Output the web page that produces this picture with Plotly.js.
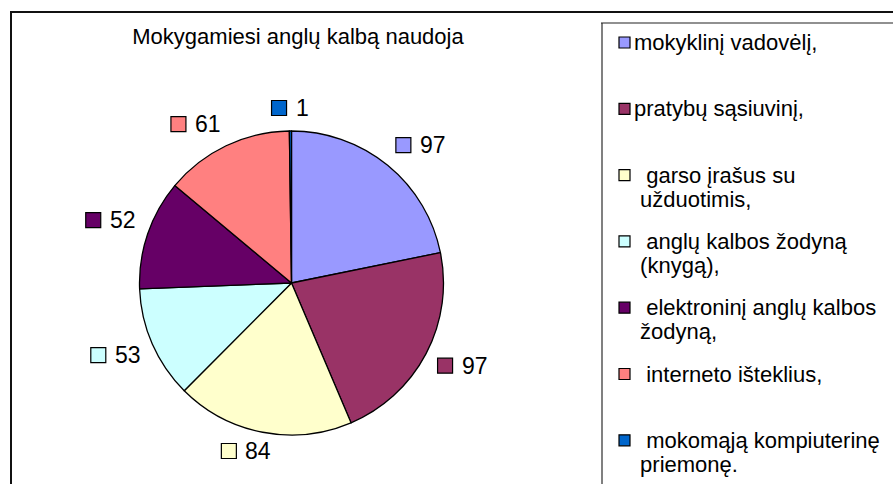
<!DOCTYPE html>
<html>
<head>
<meta charset="utf-8">
<script src="https://cdn.plot.ly/plotly-3.0.1.min.js"></script>
<style>
html,body{margin:0;padding:0;background:#fff;}
#chart{width:893px;height:484px;}
</style>
</head>
<body>
<div id="chart"></div>
<script>
// ---- data ----
const labels = ["mokyklinį vadovėlį,", "pratybų sąsiuvinį,", "garso įrašus su užduotimis,", "anglų kalbos žodyną (knygą),", "elektroninį anglų kalbos žodyną,", "interneto išteklius,", "mokomąją kompiuterinę priemonę."];
const legendText = ["mokyklinį vadovėlį,", "pratybų sąsiuvinį,", "\u00A0\u00A0garso įrašus su<br>\u00A0užduotimis,", "\u00A0\u00A0anglų kalbos žodyną<br>\u00A0(knygą),", "\u00A0\u00A0elektroninį anglų kalbos<br>\u00A0žodyną,", "\u00A0\u00A0interneto išteklius,", "\u00A0\u00A0mokomąją kompiuterinę<br>\u00A0priemonę."];
const values = [97, 97, 84, 53, 52, 61, 1];
const colors = ["#9999FF", "#993366", "#FFFFCC", "#CCFFFF", "#660066", "#FF8080", "#0066CC"];
const chartTitle = "Mokygamiesi anglų kalbą naudoja";

// ---- layout helpers ----
const W = 893, H = 484;
const px = x => x / W;
const py = y => 1 - y / H;
const FONT = "Liberation Sans, Arial, sans-serif";

const cx = 291.5, cy = 283, R = 152;

const shapes = [];
const annotations = [];

// outer chart frame
shapes.push({type: "rect", xref: "paper", yref: "paper", x0: px(11), x1: px(W + 20), y0: py(12), y1: py(H + 20), line: {color: "#111", width: 2}, fillcolor: "rgba(0,0,0,0)", layer: "below"});
// legend frame
shapes.push({type: "line", xref: "paper", yref: "paper", x0: px(602), x1: px(602), y0: py(23), y1: py(H + 20), line: {color: "#808080", width: 2}});
shapes.push({type: "line", xref: "paper", yref: "paper", x0: px(601), x1: px(W + 20), y0: py(23), y1: py(23), line: {color: "#222", width: 1.2}});

// legend entries
const legFs = 22, legTop = 42.5, legStep = 66.3, legLine = 24;
legendText.forEach((t, i) => {
  const yc = legTop + i * legStep;
  shapes.push({type: "rect", xref: "paper", yref: "paper", x0: px(619), x1: px(630), y0: py(yc - 5.5), y1: py(yc + 5.5), fillcolor: colors[i], line: {color: "#000", width: 1.2}});
  t.split("<br>").forEach((ln, k) => {
    annotations.push({xref: "paper", yref: "paper", x: px(634), y: py(yc + k * legLine), xanchor: "left", yanchor: "middle", text: ln, showarrow: false, borderpad: 0, borderwidth: 0, font: {family: FONT, size: legFs, color: "#000"}});
  });
});

// data labels (key + value), placed outside each slice from its angle
const total = values.reduce((a, b) => a + b, 0);
const lblFs = 23, sq = 15, gap = 9, lblH = 16, Rl = R + 13;
const clamp = v => Math.max(-1, Math.min(1, v));
let cum = 0;
values.forEach((v, i) => {
  const th = (cum + v / 2) / total * 2 * Math.PI;
  cum += v;
  const s = Math.sin(th), c = Math.cos(th);
  const tw = String(v).length * 0.556 * lblFs;
  const w = sq + gap + tw;
  const pX = cx + Rl * s, pY = cy - 2 - Rl * c;
  const left = pX - w * (1 - clamp(3 * s)) / 2;
  const top = pY - lblH * (1 + clamp(3 * c)) / 2;
  const ly = top + lblH / 2;
  shapes.push({type: "rect", xref: "paper", yref: "paper", x0: px(left), x1: px(left + sq), y0: py(ly - sq / 2), y1: py(ly + sq / 2), fillcolor: colors[i], line: {color: "#000", width: 1.2}});
  annotations.push({xref: "paper", yref: "paper", x: px(left + sq + gap), y: py(ly), xanchor: "left", yanchor: "middle", text: String(v), showarrow: false, borderpad: 0, borderwidth: 0, font: {family: FONT, size: lblFs, color: "#000"}});
});

const trace = {
  type: "pie",
  labels: labels,
  values: values,
  sort: false,
  direction: "clockwise",
  rotation: 0,
  textinfo: "none",
  hoverinfo: "label+value",
  showlegend: false,
  marker: {colors: colors, line: {color: "#000", width: 1.3}},
  domain: {x: [px(cx - R), px(cx + R)], y: [py(cy + R), py(cy - R)]}
};

const layout = {
  width: W, height: H,
  margin: {l: 0, r: 0, t: 0, b: 0},
  paper_bgcolor: "#fff",
  plot_bgcolor: "#fff",
  showlegend: false,
  title: {text: chartTitle, font: {family: FONT, size: 22, color: "#000"}, x: px(298), xanchor: "center", xref: "paper", y: py(36), yref: "paper", yanchor: "middle"},
  shapes: shapes,
  annotations: annotations
};

Plotly.newPlot("chart", [trace], layout, {displayModeBar: false, staticPlot: true});
</script>
</body>
</html>
